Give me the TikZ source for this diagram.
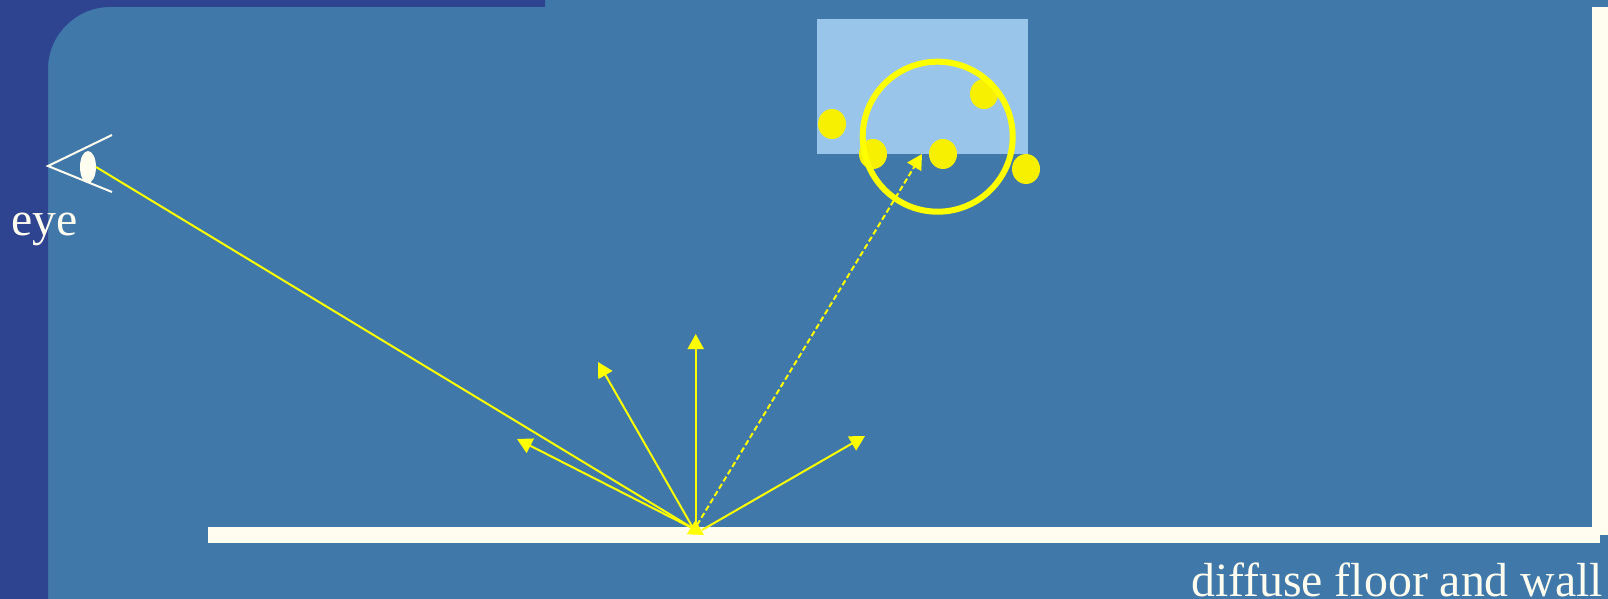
\documentclass[tikz,border=0pt]{standalone}
\usepackage{fontspec}
\setmainfont{Liberation Serif}
\usetikzlibrary{arrows.meta,shapes.geometric}
\definecolor{bgblue}{HTML}{4079A9}
\definecolor{darkblue}{HTML}{2F4490}
\definecolor{creamy}{HTML}{FFFDF0}
\definecolor{paleblue}{HTML}{9AC5EB}
\definecolor{dotyellow}{HTML}{F7F000}
\definecolor{rayyellow}{HTML}{FFFF00}
\tikzset{
  ray/.style={draw=rayyellow,line width=2pt,-{Triangle[length=15pt,width=16pt,fill=rayyellow]}},
  dashray/.style={ray,dash pattern=on 5.5pt off 3pt},
  spot/.style={ellipse,fill=dotyellow,minimum width=28pt,minimum height=30pt,inner sep=0pt,outer sep=0pt},
  label/.style={text=creamy,font=\fontsize{47.8}{48}\selectfont,inner sep=0pt,anchor=base west},
  eyeline/.style={draw=creamy,line width=2pt}
}
\begin{document}
\begin{tikzpicture}[x=1pt,y=-1pt]
\useasboundingbox (0,0) rectangle (1608,599);
% background
\fill[bgblue] (0,0) rectangle (1608,599);
\fill[darkblue] (0,0) -- (545,0) -- (545,7) -- (110,7) .. controls (76,7) and (48,35) .. (48,69) -- (48,599) -- (0,599) -- cycle;
% wall and floor
\fill[creamy] (1592,7) rectangle (1608,535);
\fill[creamy] (208,527) rectangle (1600,543);
% light source
\fill[paleblue] (817,19) rectangle (1028,154);
\node[spot] (d1) at (832,124) {};
\node[spot] (d2) at (873,154) {};
\node[spot] (d3) at (943,154) {};
\node[spot] (d4) at (984,94) {};
\node[spot] (d5) at (1026,169) {};
\node[circle,draw=rayyellow,line width=6pt,minimum size=150pt,inner sep=0pt,outer sep=0pt] (lens) at (937.7,136.7) {};
% eye
\coordinate (corner) at (48,166);
\coordinate (lidt) at (112,135);
\coordinate (lidb) at (112,192);
\draw[eyeline] (lidt) -- (corner) -- (lidb);
\node[ellipse,fill=creamy,minimum width=16pt,minimum height=32pt,inner sep=0pt,outer sep=0pt] (pupil) at (88,167) {};
\node[label] (eyetext) at (11,235) {eye};
\node[label] (floortext) at (1191,596) {diffuse floor and wall};
% rays
\coordinate (eyestart) at (96,167);
\coordinate (hit) at (704,535);
\coordinate (o1) at (692,528);
\coordinate (o2) at (693,528);
\coordinate (o3) at (695.7,530);
\coordinate (o4) at (697,525);
\coordinate (o5) at (702,530);
\coordinate (t1) at (517,439);
\coordinate (t2) at (598,362);
\coordinate (t3) at (695.7,334);
\coordinate (t4) at (922,154);
\coordinate (t5) at (865,436);
\draw[ray] (eyestart) -- (hit);
\draw[ray] (o1) -- (t1);
\draw[ray] (o2) -- (t2);
\draw[ray] (o3) -- (t3);
\draw[dashray] (o4) -- (t4);
\draw[ray] (o5) -- (t5);
\end{tikzpicture}
\end{document}
